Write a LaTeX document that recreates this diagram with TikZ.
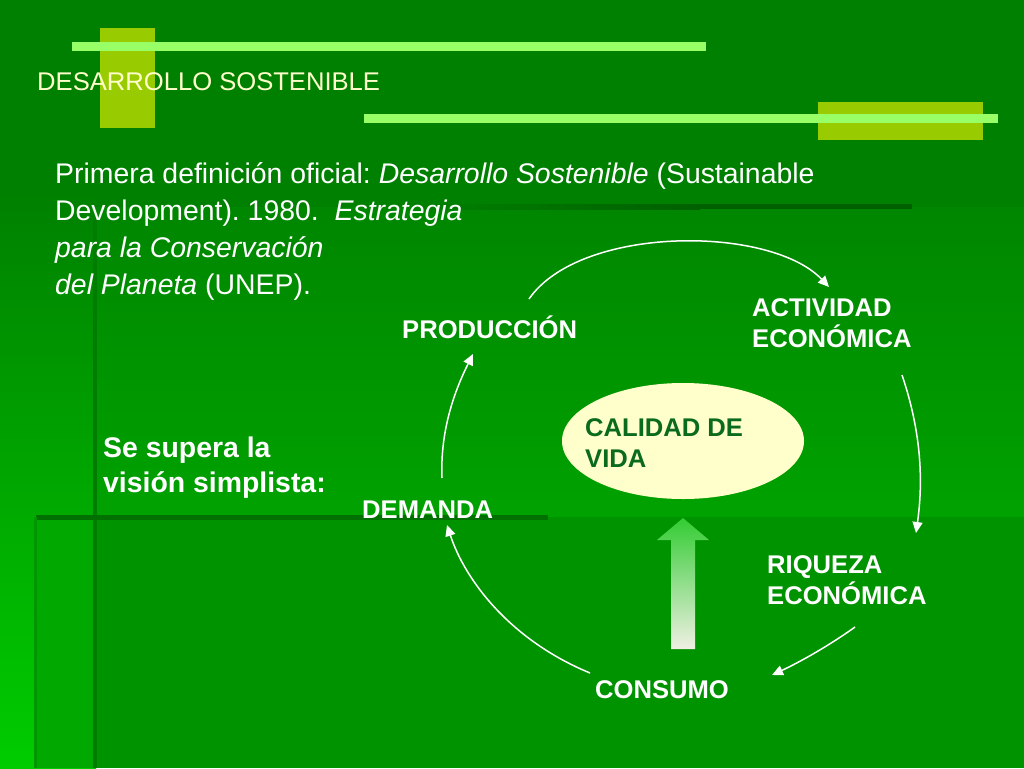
\documentclass[tikz,border=0pt]{standalone}
\usepackage{fontspec}
\setmainfont{Liberation Sans}
\usetikzlibrary{arrows.meta,shapes.geometric}
\definecolor{bgdark}{HTML}{008000}
\definecolor{bgbright}{HTML}{00CC00}
\definecolor{midtop}{HTML}{008600}
\definecolor{midbot}{HTML}{00A200}
\definecolor{stripcol}{HTML}{00A800}
\definecolor{lowcol}{HTML}{009300}
\definecolor{shadowcol}{HTML}{006000}
\definecolor{vshadow}{HTML}{007C00}
\definecolor{hshadow}{HTML}{007000}
\definecolor{edgecol}{HTML}{009600}
\definecolor{olive}{HTML}{99CC00}
\definecolor{lightbar}{HTML}{99FF66}
\definecolor{cream}{HTML}{FFFFCC}
\definecolor{txtgreen}{HTML}{0A6B1E}
\definecolor{arrowtop}{HTML}{33CC33}
\definecolor{arrowbot}{HTML}{F0F0E4}
\tikzset{
  lbl/.style={anchor=base west, inner sep=0pt, text=white, font=\fontsize{25.6}{30.7}\selectfont\bfseries},
  cyc/.style={draw=white, line width=1.5pt, -{Triangle[length=11pt,width=10pt]}},
}
\begin{document}
\frenchspacing
\begin{tikzpicture}[x=1pt,y=-1pt]
\useasboundingbox (0,0) rectangle (1024,768);
% background layers
\fill[bgdark] (0,0) rectangle (1024,768);
\shade[top color=bgdark, bottom color=bgbright] (0,190) rectangle (96,768);
\shade[top color=midtop, bottom color=midbot] (96,207) rectangle (1024,517);
\fill[stripcol] (36,517) rectangle (96,768);
\fill[lowcol] (96,517) rectangle (1024,768);
% shadow lines
\shade[left color=bgdark, right color=shadowcol] (420,204) rectangle (700,209);
\fill[shadowcol] (700,204) rectangle (912,209);
\fill[vshadow] (93,215) rectangle (97,768);
\fill[hshadow] (36,515) rectangle (548,520);
\fill[edgecol] (34,517) rectangle (37,768);
% top decorations
\fill[olive] (100,28) rectangle (155,128);
\fill[lightbar] (72,42) rectangle (706,51);
\fill[olive] (818,102) rectangle (983,140);
\fill[lightbar] (364,114) rectangle (998,123);
\node[anchor=base west, inner sep=0pt, text=cream, font=\fontsize{25.6}{30}\selectfont] (title) at (37,90) {DESARROLLO SOSTENIBLE};
% main text
\node[anchor=base west, inner sep=0pt, text=white, font=\fontsize{28.4}{37.3}\selectfont] (def) at (55,183)
  {\begin{tabular}[t]{@{}l@{}}Primera definición oficial: \textit{Desarrollo Sostenible} (Sustainable\\
   Development). 1980.\ \ \textit{Estrategia}\\
   \textit{para la Conservación}\\
   \textit{del Planeta} (UNEP).\end{tabular}};
\node[anchor=base west, inner sep=0pt, text=white, font=\fontsize{28.4}{35}\selectfont\bfseries] (vision) at (103,457)
  {\begin{tabular}[t]{@{}l@{}}Se supera la\\visión simplista:\end{tabular}};
% ellipse
\node[ellipse, fill=cream, minimum width=242pt, minimum height=116pt, inner sep=0pt] (cal) at (683,441) {};
\node[anchor=base west, inner sep=0pt, text=txtgreen, font=\fontsize{25.6}{31}\selectfont\bfseries] (caltext) at (585,436)
  {\begin{tabular}[t]{@{}l@{}}CALIDAD DE\\VIDA\end{tabular}};
% big arrow
\shade[top color=arrowtop, bottom color=arrowbot]
  (683,518) -- (709,540) -- (695,540) -- (695,649) -- (671,649) -- (671,540) -- (657,540) -- cycle;
% labels
\node[lbl] (prod) at (402,338) {PRODUCCIÓN};
\node[lbl] (act) at (752,316) {\begin{tabular}[t]{@{}l@{}}ACTIVIDAD\\ECONÓMICA\end{tabular}};
\node[lbl] (riq) at (767,573) {\begin{tabular}[t]{@{}l@{}}RIQUEZA\\ECONÓMICA\end{tabular}};
\node[lbl] (cons) at (595,698) {CONSUMO};
\node[lbl] (dem) at (362,518) {DEMANDA};
% connector end points
\coordinate (p-out) at (529,299);
\coordinate (a-in) at (829,287);
\coordinate (a-out) at (902,375);
\coordinate (r-in) at (916,533);
\coordinate (r-out) at (855,627);
\coordinate (c-in) at (772,675);
\coordinate (c-out) at (590,673);
\coordinate (d-in) at (447,525);
\coordinate (d-out) at (442,478);
\coordinate (p-in) at (473,354);
\draw[cyc] (p-out) .. controls (580,225) and (770,225) .. (a-in);
\draw[cyc] (a-out) .. controls (924,440) and (922,490) .. (r-in);
\draw[cyc] (r-out) .. controls (830,645) and (800,662) .. (c-in);
\draw[cyc] (c-out) .. controls (510,640) and (465,580) .. (d-in);
\draw[cyc] (d-out) .. controls (440,430) and (455,390) .. (p-in);
\end{tikzpicture}
\end{document}
